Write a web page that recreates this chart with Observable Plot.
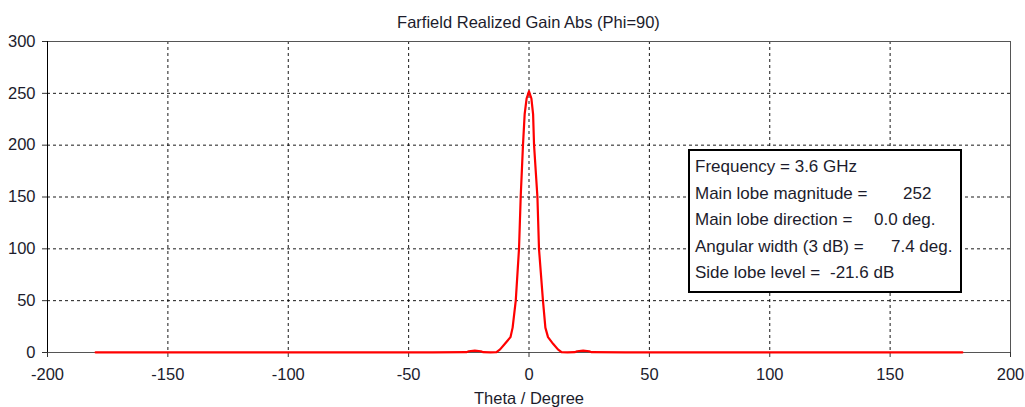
<!DOCTYPE html>
<html>
<head>
<meta charset="utf-8">
<script src="https://cdn.jsdelivr.net/npm/d3@7"></script>
<script src="https://cdn.jsdelivr.net/npm/@observablehq/plot@0.6"></script>
<style>
  html, body { margin: 0; padding: 0; background: #fff; }
  #wrap { position: relative; width: 1025px; height: 407px; font-family: "Liberation Sans", Arial, sans-serif; color: #1c1c2c; }
  #title { height: 35px; box-sizing: border-box; padding-top: 12px; line-height: 20px; font-size: 16.5px; text-align: center; padding-left: 32px; }
  #legend { position: absolute; left: 688px; top: 149px; width: 274px; height: 144px; box-sizing: border-box; border: 2px solid #000; background: #fff; padding-top: 3px; font-size: 17px; }
  #legend .row { position: relative; height: 26.5px; line-height: 26.5px; white-space: pre; }
  #legend .lab { position: absolute; left: 5px; }
  #legend .val { position: absolute; }
</style>
</head>
<body>
<div id="wrap">
  <div id="title"></div>
  <div id="chart"></div>
  <div id="legend"></div>
</div>
<script>
const chartTitle = "Farfield Realized Gain Abs (Phi=90)";
const xLabel = "Theta / Degree";
const xTicks = [-200, -150, -100, -50, 0, 50, 100, 150, 200];
const yTicks = [0, 50, 100, 150, 200, 250, 300];

const theta = [-180, -40, -26, -25, -22.5, -20, -19, -16, -13.5, -12, -10, -7.7, -6.8, -5.5, -4.15, -3.45, -2.5, -1.8, -1, 0,
               1, 1.7, 2.1, 3.5, 4.15, 5.8, 6.8, 7.9, 10, 12, 13.5, 16, 19, 20, 22.5, 25, 26, 40, 180];
const gain  = [0.1, 0.2, 0.3, 1.2, 1.75, 1.2, 0.3, 0.1, 0.4, 3, 8.4, 14.8, 24, 50, 100, 150, 200, 230, 245, 252,
               245, 230, 200, 150, 100, 50, 24, 14.8, 8.4, 3, 0.4, 0.1, 0.3, 1.2, 1.75, 1.2, 0.3, 0.2, 0.1];

const legendLabels = ["Frequency = 3.6 GHz", "Main lobe magnitude =", "Main lobe direction =", "Angular width (3 dB) =", "Side lobe level ="];
const legendValues = ["", "252", "0.0 deg.", "7.4 deg.", "-21.6 dB"];
const legendValueLeft = [0, 213, 184, 201, 140];

document.getElementById("title").textContent = chartTitle;

const data = theta.map((t, i) => ({theta: t, gain: gain[i]}));

const plot = Plot.plot({
  width: 1025,
  height: 372,
  marginLeft: 47,
  marginRight: 15,
  marginTop: 6,
  marginBottom: 55,
  style: {fontFamily: "'Liberation Sans', Arial, sans-serif", fontSize: "16.5px", color: "#1c1c2c", background: "#fff", overflow: "visible"},
  x: {domain: [-200, 200]},
  y: {domain: [0, 300]},
  marks: [
    Plot.gridX(xTicks.slice(1, -1), {stroke: "#000", strokeOpacity: 0.9, strokeDasharray: "3,3"}),
    Plot.gridY(yTicks.slice(1, -1), {stroke: "#000", strokeOpacity: 0.9, strokeDasharray: "3,3"}),
    Plot.ruleY([300], {stroke: "#555"}),
    Plot.ruleX([200], {stroke: "#555"}),
    Plot.ruleY([0], {stroke: "#555"}),
    Plot.ruleX([-200], {stroke: "#000"}),
    Plot.axisX({ticks: xTicks, tickSize: 5, tickPadding: 11, stroke: "#333", label: null, tickFormat: d => String(d)}),
    Plot.axisY({ticks: yTicks, tickSize: 5, tickPadding: 7, stroke: "#333", label: null, tickFormat: d => String(d)}),
    Plot.line(data, {x: "theta", y: "gain", stroke: "#ff0000", strokeWidth: 2.2}),
    Plot.text([xLabel], {frameAnchor: "bottom", dy: 46, lineAnchor: "middle", fontSize: 16.5, fill: "#1c1c2c"})
  ]
});
document.getElementById("chart").appendChild(plot);

const leg = document.getElementById("legend");
legendLabels.forEach((lab, i) => {
  const row = document.createElement("div");
  row.className = "row";
  const l = document.createElement("span");
  l.className = "lab";
  l.textContent = lab;
  row.appendChild(l);
  if (legendValues[i]) {
    const v = document.createElement("span");
    v.className = "val";
    v.style.left = legendValueLeft[i] + "px";
    v.textContent = legendValues[i];
    row.appendChild(v);
  }
  leg.appendChild(row);
});
</script>
</body>
</html>
